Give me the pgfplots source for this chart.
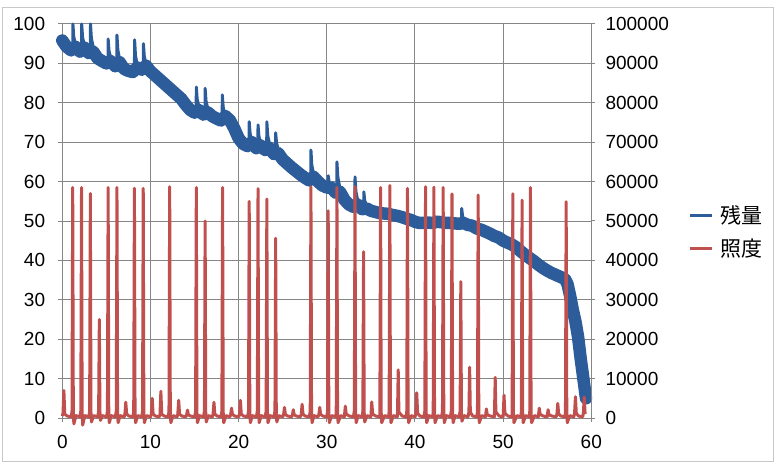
\documentclass[border=0pt]{standalone}
\usepackage{fontspec}
\setmainfont{Liberation Sans}
\newfontfamily\cjk{Noto Sans CJK JP}
\usepackage{pgfplots}
\pgfplotsset{compat=1.18}
\definecolor{bl}{RGB}{45,92,155}
\definecolor{rd}{RGB}{192,80,77}
\definecolor{gr}{RGB}{134,134,134}
\begin{document}
\begin{tikzpicture}[x=1pt,y=1pt]
\useasboundingbox (-62.3,-45) rectangle (712.7,418);
\draw[gr!45, line width=1pt] (-59.3,-43) rectangle (710.7,410);
\begin{axis}[
  scale only axis,
  width=529pt, height=394pt,
  xmin=0, xmax=60, ymin=0, ymax=100,
  xtick={0,10,...,60}, ytick={0,10,...,100},
  grid=major, grid style={gr, line width=1pt},
  axis line style={gr, line width=1pt},
  tick style={gr, line width=1pt},
  tick align=outside, major tick length=4pt, tick pos=left,
  tick label style={font=\fontsize{19}{22}\selectfont},
  /pgf/number format/assume math mode=true,
  yticklabel style={inner sep=0pt, xshift=-13pt},
  xticklabel style={inner sep=0pt, yshift=-13pt},
  clip=false,
]
\addplot[bl, line width=12.5pt, line join=round, line cap=round, forget plot] coordinates {
(0,95.8)(0.5,94.2)(1.0,93.3)(1.5,94.2)(2.0,93.0)(2.5,94.0)(3.0,92.6)(3.5,93.0)(4.0,91.3)(4.5,90.6)
(5.0,90.0)(5.5,90.6)(6.0,89.3)(6.5,90.3)(7.0,88.6)(7.5,88.1)(8.0,87.8)(8.5,89.0)(9.0,88.4)(9.5,89.4)
(10.0,88.0)(10.5,87.0)(11.0,86.0)(11.5,85.0)(12.0,84.0)(12.5,83.0)(13.0,82.0)(13.5,81.0)(14.0,79.5)(14.5,78.2)
(15.0,77.5)(15.5,78.2)(16.0,77.0)(16.5,77.6)(17.0,76.6)(17.5,76.0)(18.0,75.5)(18.5,76.6)(19.0,75.6)(19.5,73.5)
(20.0,71.0)(20.5,69.6)(21.0,69.0)(21.5,70.0)(22.0,68.5)(22.5,69.2)(23.0,68.0)(23.5,68.6)(24.0,67.0)(24.5,67.2)
(25.0,65.6)(25.5,64.6)(26.0,63.6)(26.5,62.7)(27.0,61.8)(27.5,61.0)(28.0,60.3)(28.5,61.2)(29.0,60.0)(29.5,59.0)
(30.0,58.5)(30.5,58.5)(31.0,57.2)(31.5,57.4)(32.0,55.4)(32.5,54.2)(33.0,53.6)(33.5,54.2)(34.0,53.0)(34.5,53.2)
(35.0,52.6)(35.5,52.3)(36.0,52.0)(36.5,51.9)(37.0,51.8)(37.5,51.5)(38.0,51.3)(38.5,51.0)(39.0,50.6)(39.5,50.3)
(40.0,49.8)(40.5,49.5)(41.0,49.5)(41.5,49.6)(42.0,49.5)(42.5,49.8)(43.0,49.7)(43.5,49.5)(44.0,49.5)(44.5,49.4)
(45.0,49.3)(45.5,49.5)(46.0,49.0)(46.5,48.8)(47.0,48.1)(47.5,47.8)(48.0,47.3)(48.5,46.8)(49.0,46.2)(49.5,45.8)
(50.0,45.0)(50.5,44.5)(51.0,44.0)(51.5,43.3)(52.0,42.3)(52.5,41.4)(53.0,40.6)(53.5,39.8)(54.0,38.9)(54.5,38.1)
(55.0,37.4)(55.5,36.8)(56.0,36.3)(56.5,35.8)(57.0,35.3)(57.3,34.0)(57.6,31.0)(57.9,27.5)(58.2,24.5)(58.5,20.6)
(58.8,15.0)(59.1,10.0)(59.4,5.0)
};
\addplot[bl, line width=3pt, line join=round, forget plot, unbounded coords=jump] coordinates {
(1.18,93.5)(1.2,100)(1.3,96.8)(1.5,94.8)(1.7,93.8)(1.8,nan)
(2.18,93.3)(2.2,100)(2.3,96.6)(2.5,94.6)(2.7,93.6)(2.8,nan)
(3.18,92.8)(3.2,100)(3.3,96.4)(3.5,94.2)(3.7,92.5)(3.8,nan)
(5.18,90.2)(5.2,96.2)(5.3,93.2)(5.5,91.4)(5.7,90.4)(5.8,nan)
(6.18,89.6)(6.2,97.2)(6.3,93.4)(6.5,91.1)(6.7,89.8)(6.8,nan)
(8.18,88)(8.2,96)(8.3,92)(8.5,89.6)(8.7,88.6)(8.8,nan)
(9.18,88.6)(9.2,95)(9.3,91.8)(9.5,89.9)(9.7,89)(9.8,nan)
(15.18,77.7)(15.2,84)(15.3,80.9)(15.5,79)(15.7,77.8)(15.8,nan)
(16.18,77.2)(16.2,83.7)(16.3,80.5)(16.5,78.5)(16.7,77.4)(16.8,nan)
(18.13,75.7)(18.15,82)(18.25,78.9)(18.45,77)(18.65,76.2)(18.7,nan)
(21.18,69.2)(21.2,75.2)(21.3,72.2)(21.5,70.4)(21.7,69.4)(21.8,nan)
(22.18,68.7)(22.2,74.4)(22.3,71.5)(22.5,69.8)(22.7,68.8)(22.8,nan)
(23.18,68.2)(23.2,75.2)(23.3,71.7)(23.5,69.6)(23.7,68.2)(23.8,nan)
(24.18,67.1)(24.2,72.4)(24.3,69.8)(24.5,68.2)(24.7,66.6)(24.8,nan)
(28.18,60.5)(28.2,68)(28.3,64.2)(28.5,62)(28.7,60.8)(28.8,nan)
(30.14,58.5)(30.16,61.5)(30.26,60)(30.46,59.1)(30.66,58.3)(30.7,nan)
(31.13,57.3)(31.15,65)(31.25,61.2)(31.45,58.8)(31.65,57)(31.7,nan)
(33.18,53.8)(33.2,61.2)(33.3,57.5)(33.5,55.3)(33.7,54)(33.8,nan)
(34.18,53.1)(34.2,57.4)(34.3,55.2)(34.5,54)(34.7,53.1)(34.8,nan)
(45.28,49.4)(45.3,53.2)(45.4,51.3)(45.6,50.2)(45.8,49.3)
};
\end{axis}
\begin{axis}[
  scale only axis,
  width=529pt, height=394pt,
  xmin=0, xmax=60, ymin=0, ymax=100000,
  hide x axis, axis y line*=right,
  ytick={0,10000,...,100000}, scaled y ticks=false,
  axis line style={gr, line width=1pt},
  tick style={gr, line width=1pt},
  tick align=outside, major tick length=4pt,
  tick label style={font=\fontsize{19}{22}\selectfont},
  yticklabel={\pgfmathprintnumber[fixed,precision=0,1000 sep={},assume math mode=true]{\tick}},
  yticklabel style={inner sep=0pt, xshift=10pt},
  clip=false,
  legend style={at={(1.183,0.472)}, anchor=west, draw=none, fill=none,
    inner sep=0pt, row sep=10pt, font=\cjk\fontsize{21}{24}\selectfont,
    cells={anchor=west}},
  legend image code/.code={\draw[#1] (0pt,0pt) -- (22pt,0pt); \path (27pt,0pt);},
]
\addlegendimage{bl, line width=3.5pt}
\addlegendentry{残量}
\addplot[rd, line width=3pt, line join=round] coordinates {
(0.0,500)(0.08,1200)(0.18,7000)(0.28,1000)(0.55,500)
(1.02,300)(1.1,1800)(1.18,58500)(1.25,1500)(1.31,-1500)(1.55,600)
(2.02,300)(2.1,1800)(2.18,58500)(2.25,1500)(2.31,-1800)(2.55,600)
(3.02,300)(3.1,1800)(3.18,57000)(3.25,1500)(3.31,-1000)(3.55,600)
(4.02,300)(4.12,1800)(4.2,25000)(4.27,1500)(4.33,-600)(4.55,600)
(5.02,300)(5.12,1800)(5.2,58500)(5.27,1500)(5.33,-1200)(5.55,600)
(6.02,300)(6.12,1800)(6.2,58500)(6.27,1500)(6.33,-1200)(6.55,600)
(7.02,300)(7.1,1000)(7.2,4000)(7.3,1000)(7.55,500)
(8.02,300)(8.1,1800)(8.18,58300)(8.25,1500)(8.31,-1200)(8.55,600)
(9.02,300)(9.1,1800)(9.18,58300)(9.25,1500)(9.31,-1200)(9.55,600)
(10.02,300)(10.1,1000)(10.2,5000)(10.3,1000)(10.55,500)
(11.02,300)(11.08,1000)(11.18,6800)(11.28,1000)(11.55,500)
(12.02,300)(12.1,1800)(12.18,58700)(12.25,1500)(12.31,-1200)(12.55,600)
(13.02,300)(13.1,1000)(13.2,4500)(13.3,1000)(13.55,500)
(14.02,300)(14.1,800)(14.2,2000)(14.3,800)(14.55,500)
(15.02,300)(15.12,1800)(15.2,58500)(15.27,1500)(15.33,-1200)(15.55,600)
(16.02,300)(16.12,1800)(16.2,50000)(16.27,1500)(16.33,-1000)(16.55,600)
(17.02,300)(17.1,1000)(17.2,4000)(17.3,1000)(17.55,500)
(18.02,300)(18.1,1800)(18.18,58500)(18.25,1500)(18.31,-1200)(18.55,600)
(19.02,300)(19.1,900)(19.2,2500)(19.3,900)(19.55,500)
(20.02,300)(20.1,1000)(20.2,4500)(20.3,1000)(20.55,500)
(21.02,300)(21.12,1800)(21.2,55000)(21.27,1500)(21.33,-1200)(21.55,600)
(22.02,300)(22.12,1800)(22.2,58200)(22.27,1500)(22.33,-1200)(22.55,600)
(23.02,300)(23.12,1800)(23.2,55600)(23.27,1500)(23.33,-1200)(23.55,600)
(24.02,300)(24.12,1800)(24.2,45600)(24.27,1500)(24.33,-1000)(24.55,600)
(25.02,300)(25.1,900)(25.2,2700)(25.3,900)(25.55,500)
(26.02,300)(26.1,800)(26.2,2100)(26.3,800)(26.55,500)
(27.02,300)(27.1,1000)(27.2,3500)(27.3,1000)(27.55,500)
(28.02,300)(28.12,1800)(28.2,58700)(28.27,1500)(28.33,-1200)(28.55,600)
(29.02,300)(29.1,900)(29.2,2700)(29.3,900)(29.55,500)
(30.02,300)(30.08,1800)(30.16,52600)(30.23,1500)(30.29,-1200)(30.55,600)
(31.02,300)(31.07,1800)(31.15,58500)(31.22,1500)(31.28,-1200)(31.55,600)
(32.0,300)(32.02,1000)(32.1,3000)(32.2,1000)(32.55,500)
(33.02,300)(33.12,1800)(33.2,58700)(33.27,1500)(33.33,-1200)(33.55,600)
(34.02,300)(34.09,1800)(34.17,42200)(34.24,1500)(34.3,-1000)(34.55,600)
(35.0,300)(35.02,1000)(35.1,4100)(35.2,1000)(35.55,500)
(36.0,300)(36.02,1800)(36.1,58500)(36.17,1500)(36.23,-1200)(36.55,600)
(37.02,300)(37.07,1800)(37.15,59000)(37.22,1500)(37.28,-1200)(37.55,600)
(38.0,300)(38.02,1500)(38.1,12200)(38.18,1500)(38.55,500)
(39.02,300)(39.07,1800)(39.15,58300)(39.22,1500)(39.28,-1200)(39.55,600)
(40.02,300)(40.1,1200)(40.2,6400)(40.3,1200)(40.55,500)
(41.02,300)(41.12,1800)(41.2,58700)(41.27,1500)(41.33,-1200)(41.55,600)
(42.02,300)(42.07,1800)(42.15,58600)(42.22,1500)(42.28,-1200)(42.55,600)
(43.02,300)(43.12,1800)(43.2,58500)(43.27,1500)(43.33,-1200)(43.55,600)
(44.02,300)(44.12,1800)(44.2,56900)(44.27,1500)(44.33,-1200)(44.55,600)
(45.02,300)(45.12,1800)(45.2,34600)(45.27,1500)(45.33,-800)(45.55,600)
(46.02,300)(46.12,1500)(46.2,12900)(46.28,1500)(46.55,500)
(47.02,300)(47.09,1800)(47.17,56600)(47.24,1500)(47.3,-1200)(47.55,600)
(48.0,300)(48.02,800)(48.1,2300)(48.2,800)(48.55,500)
(49.0,300)(49.02,1500)(49.1,10300)(49.18,1500)(49.55,500)
(50.0,300)(50.02,1200)(50.1,5800)(50.2,1200)(50.55,500)
(51.0,300)(51.02,1800)(51.1,56900)(51.17,1500)(51.23,-1200)(51.55,600)
(52.02,300)(52.07,1800)(52.15,55300)(52.22,1500)(52.28,-1200)(52.55,600)
(53.0,300)(53.02,1800)(53.1,58500)(53.17,1500)(53.23,-1200)(53.55,600)
(54.0,300)(54.02,900)(54.1,2500)(54.2,900)(54.55,500)
(55.0,300)(55.02,800)(55.1,2100)(55.2,800)(55.55,500)
(56.02,300)(56.1,1000)(56.2,3700)(56.3,1000)(56.55,500)
(57.02,300)(57.07,1800)(57.15,54900)(57.22,1500)(57.28,-1200)(57.55,600)
(58.02,300)(58.1,1200)(58.2,5400)(58.3,1200)(58.55,500)
(59.02,300)(59.1,1200)(59.2,5300)(59.3,1000)
};
\addlegendentry{照度}
\end{axis}
\end{tikzpicture}
\end{document}
